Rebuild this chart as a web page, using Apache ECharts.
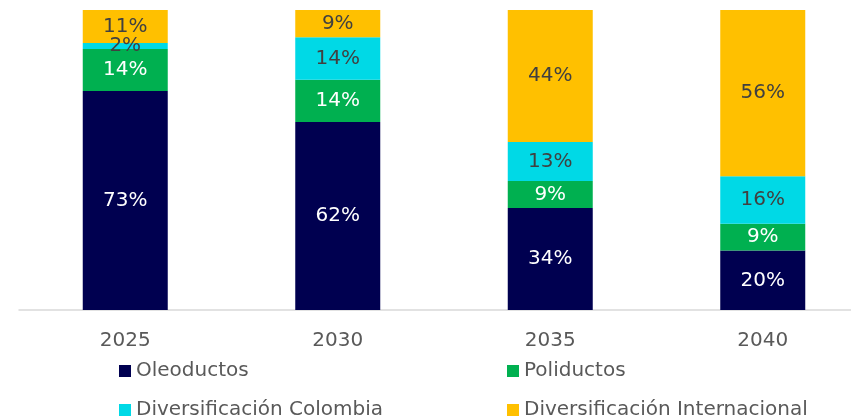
<!DOCTYPE html>
<html><head><meta charset="utf-8">
<script src="https://cdn.jsdelivr.net/npm/echarts@6/dist/echarts.min.js"></script>
<style>html,body{margin:0;padding:0;background:#fff}#c{width:851px;height:418px}</style>
</head><body><div id="c"></div>
<script>
const categories = ['2025', '2030', '2035', '2040'];
const oleoductos = [73, 62, 34, 20];
const poliductos = [14, 14, 9, 9];
const divColombia = [2, 14, 13, 16];
const divInternacional = [11, 9, 44, 56];

const seriesDefs = [
  {name: 'Oleoductos', data: oleoductos, color: '#000050', label: '#ffffff'},
  {name: 'Poliductos', data: poliductos, color: '#00B050', label: '#ffffff'},
  {name: 'Diversificación Colombia', data: divColombia, color: '#00D9E6', label: '#404040'},
  {name: 'Diversificación Internacional', data: divInternacional, color: '#FFC000', label: '#404040'}
];
const totals = categories.map((c, i) => seriesDefs.reduce((s, d) => s + d.data[i], 0));
const FONT = 'DejaVu Sans';

const chart = echarts.init(document.getElementById('c'));
const legendBase = {orient: 'vertical', top: 356, height: 90,
  itemWidth: 12, itemHeight: 12, itemGap: 19, icon: 'rect',
  textStyle: {fontFamily: FONT, fontSize: 20, color: '#595959', padding: [0,0,0,0]}};
chart.setOption({
  animation: false,
  grid: {left: 19, top: 10, width: 850, height: 300, containLabel: false, outerBoundsMode: 'none'},
  legend: [
    Object.assign({}, legendBase, {data: ['Oleoductos', 'Diversificación Colombia'], left: 114}),
    Object.assign({}, legendBase, {data: ['Poliductos', 'Diversificación Internacional'], left: 502})
  ],
  xAxis: {
    type: 'category', data: categories,
    axisLine: {lineStyle: {color: '#D9D9D9', width: 1.5}},
    axisTick: {show: false},
    axisLabel: {fontFamily: FONT, fontSize: 20, color: '#595959', margin: 21}
  },
  yAxis: {type: 'value', min: 0, max: 100, show: false, splitLine: {show: false}},
  series: seriesDefs.map(d => ({
    name: d.name, type: 'bar', stack: 'total', barWidth: '40%',
    itemStyle: {color: d.color},
    data: d.data.map((v, i) => ({value: v / totals[i] * 100, raw: v})),
    label: {show: true, position: 'inside', fontFamily: FONT, fontSize: 20, color: d.label,
      formatter: p => p.data.raw + '%'}
  }))
});
</script></body></html>
